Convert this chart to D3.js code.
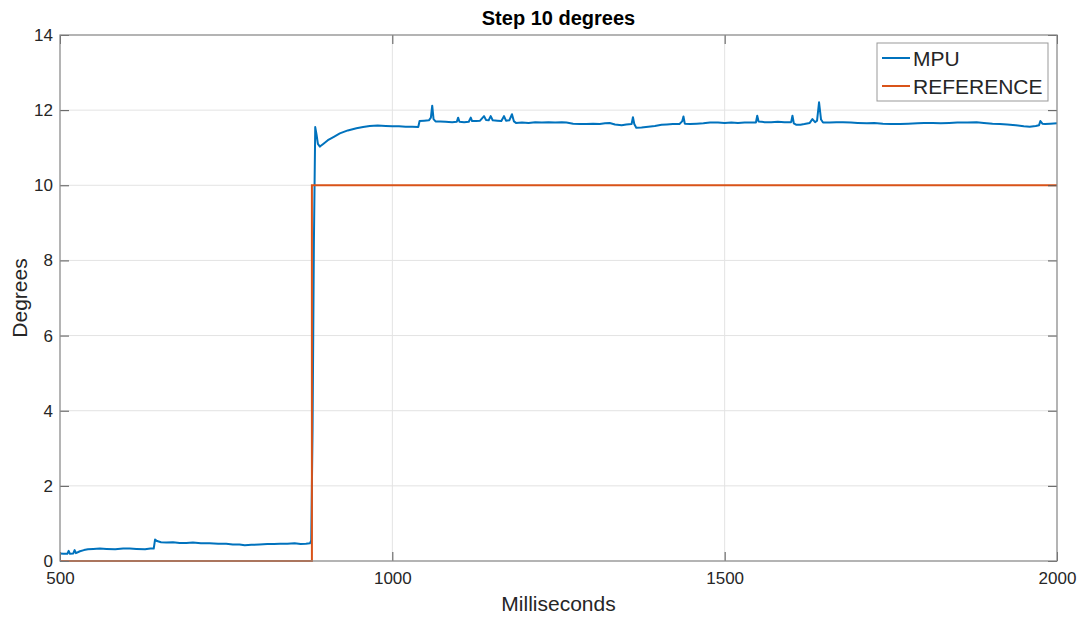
<!DOCTYPE html>
<html>
<head>
<meta charset="utf-8">
<script src="https://cdn.jsdelivr.net/npm/d3@7"></script>
<style>
  html, body { margin: 0; padding: 0; background: #ffffff; }
  svg { display: block; }
  text { font-family: "Liberation Sans", Arial, Helvetica, sans-serif; }
</style>
</head>
<body>
<script>
// ---------------- DATA ----------------
const chartTitle = "Step 10 degrees";
const xLabel = "Milliseconds";
const yLabel = "Degrees";
const seriesNames = ["MPU", "REFERENCE"];
const xTicks = [500, 1000, 1500, 2000];
const yTicks = [0, 2, 4, 6, 8, 10, 12, 14];

const mpuTime = [500,505,511,513,515,520,522,524,530,536,542,550,560,570,583,595,605,615,628,636,641,643,646,652,660,670,680,690,700,712,725,738,750,760,770,778,788,800,812,822,831,842,853,862,870,876,878,880,882,884,886,888,891,896,903,912,921,933,946,956,966,978,990,1000,1010,1020,1030,1039,1041,1048,1055,1058,1060,1062,1065,1072,1080,1090,1097,1099,1101,1108,1115,1118,1120,1126,1132,1138,1141,1145,1148,1151,1158,1164,1168,1171,1176,1180,1183,1186,1195,1205,1215,1225,1235,1245,1255,1262,1272,1282,1292,1302,1312,1320,1327,1335,1345,1352,1360,1362,1364,1367,1375,1385,1395,1405,1413,1422,1432,1436,1438,1440,1448,1458,1468,1478,1490,1500,1510,1520,1530,1540,1547,1549,1551,1560,1570,1580,1590,1600,1602,1604,1608,1614,1620,1628,1632,1636,1639,1642,1645,1648,1658,1668,1678,1690,1700,1714,1725,1738,1750,1764,1776,1790,1800,1813,1825,1838,1850,1865,1879,1890,1903,1914,1925,1938,1950,1959,1968,1973,1975,1978,1982,1990,2000];
const mpuValue = [0.20,0.19,0.19,0.27,0.19,0.20,0.29,0.21,0.26,0.29,0.31,0.32,0.33,0.32,0.31,0.33,0.33,0.32,0.31,0.33,0.33,0.57,0.53,0.50,0.49,0.50,0.48,0.48,0.49,0.47,0.47,0.46,0.46,0.44,0.44,0.42,0.43,0.44,0.45,0.45,0.46,0.46,0.47,0.45,0.46,0.47,0.55,3.5,8.5,11.55,11.35,11.10,11.03,11.10,11.20,11.29,11.38,11.46,11.52,11.55,11.58,11.59,11.58,11.57,11.57,11.56,11.56,11.55,11.71,11.72,11.73,11.80,12.12,11.76,11.70,11.70,11.69,11.68,11.69,11.80,11.69,11.68,11.69,11.80,11.71,11.71,11.72,11.84,11.74,11.73,11.84,11.73,11.72,11.71,11.84,11.72,11.73,11.89,11.70,11.66,11.67,11.66,11.68,11.67,11.68,11.67,11.68,11.67,11.64,11.63,11.63,11.64,11.63,11.65,11.66,11.62,11.60,11.62,11.63,11.81,11.63,11.53,11.54,11.56,11.58,11.61,11.62,11.63,11.63,11.70,11.83,11.64,11.63,11.64,11.65,11.67,11.67,11.66,11.67,11.66,11.67,11.67,11.67,11.85,11.70,11.68,11.68,11.69,11.68,11.68,11.85,11.65,11.61,11.61,11.63,11.66,11.76,11.68,11.72,12.21,11.75,11.67,11.67,11.68,11.68,11.67,11.66,11.65,11.66,11.64,11.63,11.63,11.64,11.65,11.66,11.66,11.65,11.66,11.67,11.67,11.68,11.66,11.64,11.63,11.62,11.60,11.57,11.56,11.58,11.60,11.71,11.64,11.63,11.64,11.65];

const refTime = [500, 879, 879, 2000];
const refValue = [0, 0, 10, 10];

const seriesColors = ["#0072BD", "#D95319"];

// ---------------- LAYOUT ----------------
const W = 1090, H = 622;
const m = { left: 60, right: 33, top: 35, bottom: 61 };
const iw = W - m.left - m.right;
const ih = H - m.top - m.bottom;

const svg = d3.select("body").append("svg").attr("width", W).attr("height", H);

const x = d3.scaleLinear().domain([500, 2000]).range([0, iw]);
const y = d3.scaleLinear().domain([0, 14]).range([ih, 0]);

const g = svg.append("g").attr("transform", `translate(${m.left},${m.top})`);

// grid
g.append("g").attr("class", "grid")
  .selectAll("line").data(xTicks).join("line")
  .attr("x1", d => x(d)).attr("x2", d => x(d)).attr("y1", 0).attr("y2", ih)
  .attr("stroke", "#e3e3e3").attr("stroke-width", 1);
g.append("g").attr("class", "grid")
  .selectAll("line").data(yTicks).join("line")
  .attr("x1", 0).attr("x2", iw).attr("y1", d => y(d)).attr("y2", d => y(d))
  .attr("stroke", "#e3e3e3").attr("stroke-width", 1);

// lines
svg.append("defs").append("clipPath").attr("id", "clip")
  .append("rect").attr("x", 0).attr("y", -2).attr("width", iw).attr("height", ih + 4);

const line = d3.line().x(d => x(d[0])).y(d => y(d[1]));
const refData = refTime.map((t, i) => [t, refValue[i]]);
const mpuData = mpuTime.map((t, i) => [t, mpuValue[i]]);

const plot = g.append("g").attr("clip-path", "url(#clip)");
plot.append("path").datum(mpuData).attr("d", line)
  .attr("fill", "none").attr("stroke", seriesColors[0]).attr("stroke-width", 2)
  .attr("stroke-linejoin", "round");
plot.append("path").datum(refData).attr("d", line)
  .attr("fill", "none").attr("stroke", seriesColors[1]).attr("stroke-width", 2)
  .attr("stroke-linejoin", "miter");

// axes (MATLAB style: inward ticks on all four sides)
const tickLen = 9;
const axisColor = "#8c8c8c";
const labelColor = "#262626";
const fmt = d3.format("d");

const gx = g.append("g").attr("transform", `translate(0,${ih})`)
  .call(d3.axisBottom(x).tickValues(xTicks).tickFormat(fmt).tickSizeInner(-tickLen).tickSizeOuter(0));
gx.selectAll("text").attr("font-size", 17).attr("fill", labelColor).attr("dy", "0.71em").attr("y", 11);

const gy = g.append("g")
  .call(d3.axisLeft(y).tickValues(yTicks).tickFormat(fmt).tickSizeInner(-tickLen).tickSizeOuter(0));
gy.selectAll("text").attr("font-size", 17).attr("fill", labelColor).attr("x", -7);

const gxT = g.append("g").call(d3.axisTop(x).tickValues(xTicks).tickSizeInner(-tickLen).tickSizeOuter(0).tickFormat(""));
const gyR = g.append("g").attr("transform", `translate(${iw},0)`).call(d3.axisRight(y).tickValues(yTicks).tickSizeInner(-tickLen).tickSizeOuter(0).tickFormat(""));

[gx, gy, gxT, gyR].forEach(a => {
  a.select(".domain").remove();
  a.selectAll(".tick line").attr("stroke", "#555");
});

// box
g.append("rect").attr("x", 0).attr("y", 0).attr("width", iw).attr("height", ih)
  .attr("fill", "none").attr("stroke", axisColor).attr("stroke-width", 1.2);

// title & labels
svg.append("text").attr("x", m.left + iw / 2).attr("y", 25)
  .attr("text-anchor", "middle").attr("font-size", 20).attr("font-weight", "bold")
  .attr("fill", "#000").text(chartTitle);
svg.append("text").attr("x", m.left + iw / 2).attr("y", 611)
  .attr("text-anchor", "middle").attr("font-size", 21).attr("fill", labelColor).text(xLabel);
svg.append("text").attr("transform", `translate(27,${m.top + ih / 2}) rotate(-90)`)
  .attr("text-anchor", "middle").attr("font-size", 21).attr("fill", labelColor).text(yLabel);

// legend
const lg = svg.append("g").attr("transform", "translate(877,43)");
lg.append("rect").attr("x", 0).attr("y", 0).attr("width", 171).attr("height", 58)
  .attr("fill", "#fff").attr("stroke", "#999").attr("stroke-width", 1);
seriesNames.forEach((name, i) => {
  const yy = 15 + i * 28;
  lg.append("line").attr("x1", 5).attr("x2", 33).attr("y1", yy).attr("y2", yy)
    .attr("stroke", seriesColors[i]).attr("stroke-width", 2);
  lg.append("text").attr("x", 36).attr("y", yy).attr("dy", "0.36em")
    .attr("font-size", 21).attr("fill", labelColor).text(name);
});
</script>
</body>
</html>
